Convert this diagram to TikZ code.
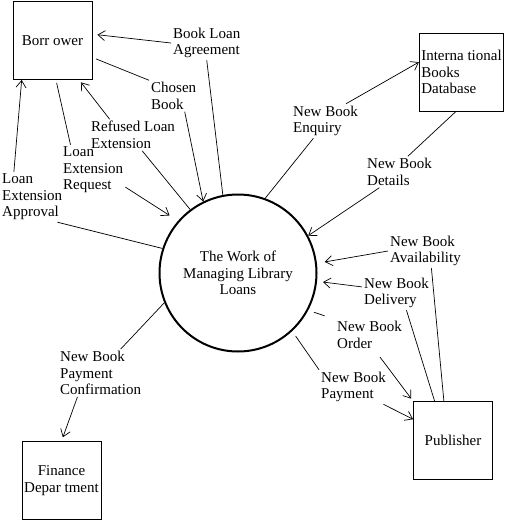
\documentclass[tikz,border=0pt]{standalone}
\usepackage{fontspec}
\setmainfont{Liberation Serif}
\usetikzlibrary{arrows.meta}
\newcommand{\dfdfont}{\fontsize{15}{16.5}\selectfont}
\tikzset{
    entity/.style = {rectangle, draw=black, line width=0.9pt, minimum width=79pt, minimum height=78pt, inner sep=2pt, font=\dfdfont},
    process/.style = {circle, draw=black, line width=2pt, minimum size=157pt, align=center, font=\dfdfont},
    flow/.style = {align=left, inner sep=2pt, anchor=west, font=\dfdfont},
    line/.style = {line width=0.7pt},
    arrow/.style = {line width=0.7pt, -{Straight Barb[length=7pt,width=10pt]}}
}

\begin{document}
\begin{tikzpicture}[x=1pt, y=-1pt]
\useasboundingbox (0,0) rectangle (510,522);
\node (borrower) [entity] at (52.5,40.5) {Borr ower};
\node (database) [entity, align=left] at (461.5,72) {Interna tional\\Books\\Database};
\node (publisher) [entity] at (453,440.5) {Publisher};
\node (finance) [entity, align=center] at (61.5,480.5) {Finance\\Depar tment};
\node (work) [process] at (238,273) {The Work of\\Managing Library\\Loans};

\node (lblAgree) [flow] at (171,43) {Book Loan\\Agreement};
\node (lblChosen) [flow] at (149,96) {Chosen\\Book};
\node (lblRefused) [flow] at (89,135) {Refused Loan\\Extension};
\node (lblRequest) [flow] at (61,170) {Loan\\Extension\\Request};
\node (lblApproval) [flow] at (0,197) {Loan\\Extension\\Approval};
\node (lblEnquiry) [flow] at (291,121) {New Book\\Enquiry};
\node (lblDetails) [flow] at (365,172) {New Book\\Details};
\node (lblAvail) [flow] at (388,251) {New Book\\Availability};
\node (lblDelivery) [flow] at (362,293) {New Book\\Delivery};
\node (lblOrder) [flow] at (335,335) {New Book\\Order};
\node (lblPayment) [flow] at (319,387) {New Book\\Payment};
\node (lblConfirm) [flow] at (58,373) {New Book\\Payment\\Confirmation};

% borrower flows
\draw [line] (work.101) -- (lblAgree.south);
\draw [arrow, shorten >=5pt] (lblAgree.west) -- (borrower.9);
\draw [line, shorten <=4pt] (borrower.-23) -- (lblChosen.north west);
\draw [arrow] (lblChosen.-55) -- (work.116);
\draw [arrow, shorten >=3pt] (lblRefused.146) -- (borrower.-56);
\draw [line] (lblRefused.-60) -- (work.127);
\draw [line, shorten <=3pt] (borrower.-85) -- (lblRequest.132);
\draw [arrow, shorten >=10pt] (lblRequest.-28) -- (work.139);
\draw [arrow] (lblApproval.126) -- (borrower.-128);
\draw [line] (lblApproval.-45) -- (work.162);

% database flows
\draw [line] (work.70) -- (lblEnquiry.-125);
\draw [arrow] (lblEnquiry.40) -- (database.167);
\draw [line] (database.-98) -- (lblDetails.62);
\draw [arrow] (lblDetails.-142) -- (work.28);

% publisher flows
\draw [line] (publisher.103) -- (lblAvail.-71);
\draw [arrow, shorten >=8pt] (lblAvail.west) -- (work.7);
\draw [line] (publisher.115) -- (lblDelivery.-60);
\draw [arrow, shorten >=6pt] (lblDelivery.170) -- (work.-6);
\draw [line, shorten <=6pt, shorten >=11pt] (work.-28) -- (lblOrder.north west);
\draw [arrow, shorten <=8pt, shorten >=3pt] (lblOrder.-70) -- (publisher.north west);
\draw [line, shorten <=6pt] (work.-47) -- (lblPayment.north west);
\draw [arrow] (lblPayment.-30) -- (publisher.152);

% finance flow
\draw [line] (work.-158) -- (lblConfirm.50);
\draw [arrow, shorten >=4pt] (lblConfirm.-134) -- (finance.north);
\end{tikzpicture}
\end{document}
